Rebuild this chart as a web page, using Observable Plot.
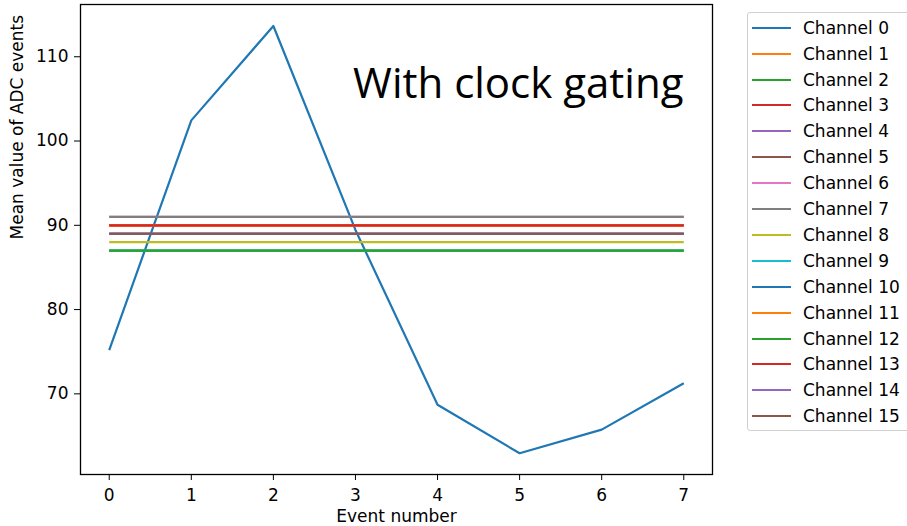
<!DOCTYPE html>
<html>
<head>
<meta charset="utf-8">
<script src="https://cdn.jsdelivr.net/npm/d3@7"></script>
<script src="https://cdn.jsdelivr.net/npm/@observablehq/plot@0.6"></script>
<style>
  html, body { margin: 0; padding: 0; background: #fff; overflow: hidden; }
  #wrap { position: relative; width: 907px; height: 526px; }
  #legend {
    position: absolute; left: 747px; top: 12px; width: 180px; height: 419px;
    border: 1px solid #d0d0d0; border-radius: 3px; box-sizing: border-box;
    font-family: "DejaVu Sans", sans-serif; font-size: 17px; color: #000; background: #fff;
  }
  .swatch { position: absolute; left: 4px; width: 39px; height: 2px; }
  .lbl { position: absolute; left: 55px; white-space: nowrap; line-height: 20px; }
</style>
</head>
<body>
<div id="wrap"></div>
<script>
// ---- data ----
const events = [0, 1, 2, 3, 4, 5, 6, 7];
const xTickLabels = ["0", "1", "2", "3", "4", "5", "6", "7"];
const yTicks = [70, 80, 90, 100, 110];
const channelNames = ["Channel 0","Channel 1","Channel 2","Channel 3","Channel 4","Channel 5","Channel 6","Channel 7",
  "Channel 8","Channel 9","Channel 10","Channel 11","Channel 12","Channel 13","Channel 14","Channel 15"];
const channelColors = ["#1f77b4","#ff7f0e","#2ca02c","#d62728","#9467bd","#8c564b","#e377c2","#7f7f7f",
  "#bcbd22","#17becf","#1f77b4","#ff7f0e","#2ca02c","#d62728","#9467bd","#8c564b"];
// Channel 0 varies per event
const channel0 = [75.2, 102.45, 113.65, 89.45, 68.7, 62.95, 65.75, 71.25];
// Channels 1..15 stay at a constant mean value for every event
const channelLevels = [90, 87, 90, 89, 89, 91, 91, 88, 87, 89, 90, 87, 90, 89, 89];

// ---- build table ----
const rows = [];
events.forEach((e, i) => rows.push({event: e, value: channel0[i], ch: 0}));
channelLevels.forEach((lvl, k) => {
  events.forEach(e => rows.push({event: e, value: lvl, ch: k + 1}));
});

const font = "DejaVu Sans, sans-serif";
const chart = Plot.plot({
  width: 907,
  height: 526,
  marginLeft: 80,
  marginRight: 195,
  marginTop: 4,
  marginBottom: 52,
  style: {fontFamily: font, fontSize: "17px", color: "#000", background: "transparent"},
  x: {domain: [-0.35, 7.35]},
  y: {domain: [60.43, 116.2]},
  marks: [
    Plot.axisX(events, {tickSize: 6, tickPadding: 8, tickFormat: (d, i) => xTickLabels[i], label: null, fontSize: 17, stroke: "#000"}),
    Plot.axisY(yTicks, {tickSize: 6, tickPadding: 6, tickFormat: d => String(d), label: null, fontSize: 17, stroke: "#000"}),
    Plot.lineY(rows, {
      x: "event", y: "value", z: "ch",
      stroke: d => channelColors[d.ch],
      strokeWidth: 2.2, strokeLinejoin: "round", strokeLinecap: "butt"
    }),
    Plot.frame({stroke: "#000", strokeWidth: 1.3}),
    Plot.text(["With clock gating"], {
      frameAnchor: "top-right", dx: -29, dy: 80, textAnchor: "end", lineAnchor: "middle",
      fontSize: 42, fontFamily: "Open Sans, sans-serif", fill: "#000"
    }),
    Plot.text(["Event number"], {frameAnchor: "bottom", dy: 42, lineAnchor: "middle", fontSize: 17, fill: "#000"}),
    Plot.text(["Mean value of ADC events"], {frameAnchor: "left", dx: -63, rotate: -90, lineAnchor: "middle", fontSize: 17, fill: "#000"})
  ]
});

const wrap = document.getElementById("wrap");
wrap.appendChild(chart);

// ---- legend ----
const legend = document.createElement("div");
legend.id = "legend";
channelNames.forEach((name, i) => {
  const cy = 14.7 + 25.9 * i;
  const sw = document.createElement("div");
  sw.className = "swatch";
  sw.style.top = (cy - 1) + "px";
  sw.style.background = channelColors[i];
  const tx = document.createElement("div");
  tx.className = "lbl";
  tx.style.top = (cy - 10) + "px";
  tx.textContent = name;
  legend.appendChild(sw);
  legend.appendChild(tx);
});
wrap.appendChild(legend);
</script>
</body>
</html>
